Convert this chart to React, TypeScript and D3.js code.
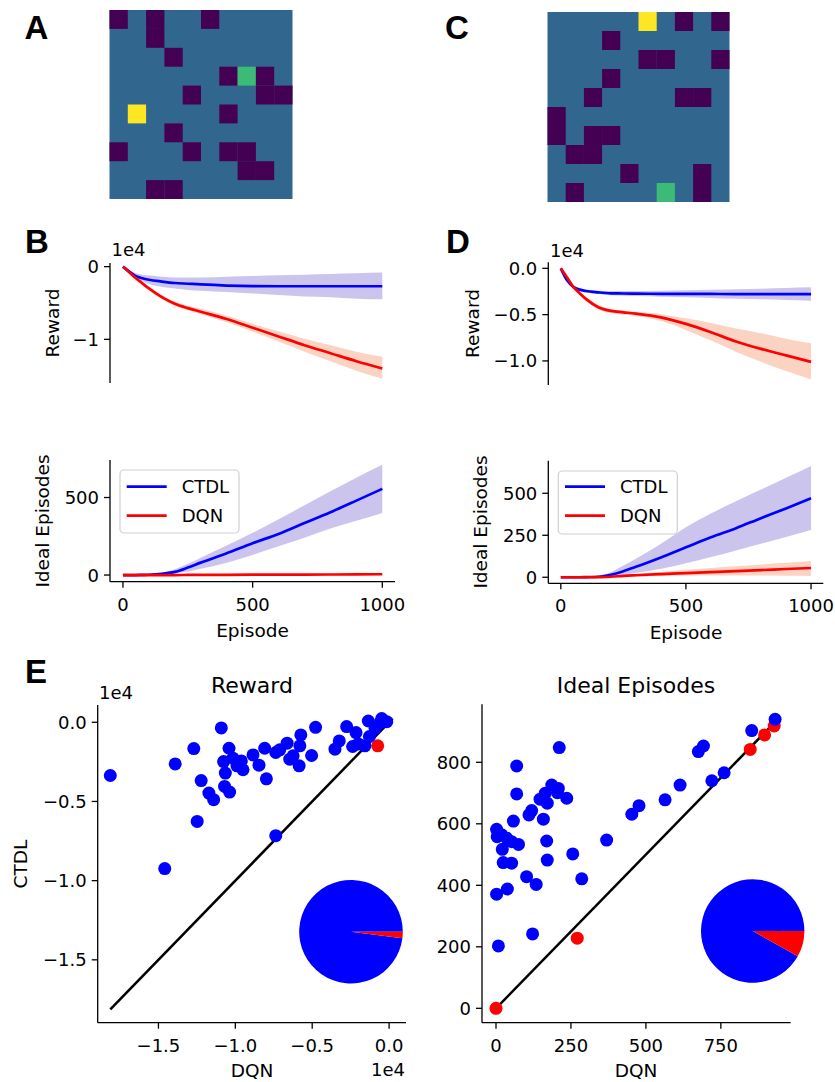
import React, { useRef, useEffect } from "react";
import * as d3 from "d3";

// grid worlds: '#' wall, '.' free, 'S' start, 'G' goal
const gridA = [
  "#.#..#....",
  "..#.......",
  "...#......",
  "......#G#.",
  "....#...##",
  ".S....#...",
  "...#......",
  "#...#.##..",
  ".......##.",
  "..##......",
];
const gridC = [
  ".....S.#.#",
  "...#......",
  ".....##..#",
  "...#......",
  "..#....##.",
  "#.........",
  "#.##......",
  ".##.......",
  "....#...#.",
  ".#....G.#.",
];

const episodes = [0, 25, 50, 75, 100, 150, 200, 250, 300, 400, 500, 600, 700, 800, 900, 1000];

// B: reward
const bRewardCtdl = [0, -700, -1300, -1600, -1800, -2050, -2250, -2350, -2450, -2600, -2680, -2700, -2700, -2700, -2700, -2700];
const bRewardCtdlHi = [0, -500, -900, -1100, -1200, -1400, -1500, -1500, -1500, -1400, -1300, -1200, -1100, -1000, -900, -800];
const bRewardCtdlLo = [0, -900, -1600, -2000, -2400, -2800, -3000, -3200, -3300, -3500, -3700, -3900, -4100, -4200, -4400, -4500];
const bRewardDqn = [0, -800, -1600, -2300, -3000, -4200, -5100, -5700, -6200, -7200, -8400, -9600, -10800, -11900, -13000, -14000];
const bRewardDqnHi = [0, -700, -1450, -2150, -2800, -3950, -4800, -5350, -5800, -6750, -7850, -8900, -9900, -10800, -11700, -12400];
const bRewardDqnLo = [0, -900, -1750, -2450, -3200, -4450, -5400, -6000, -6550, -7650, -8950, -10300, -11700, -13000, -14300, -15400];

// B: ideal episodes
const bIdealCtdl = [0, 0, 0, 1, 2, 8, 20, 48, 80, 140, 205, 265, 335, 405, 480, 556];
const bIdealCtdlHi = [0, 0, 0, 1, 3, 14, 38, 72, 112, 190, 272, 360, 450, 540, 628, 711];
const bIdealCtdlLo = [0, 0, 0, 0, 1, 4, 10, 22, 40, 80, 130, 185, 240, 300, 350, 400];
const bIdealDqn = [0, 0, 0, 0, 0, 0, 0, 0.5, 1, 1.5, 2, 2.5, 3, 3.5, 4, 5];
const bIdealDqnHi = [0, 0, 0, 0, 0, 0, 0.5, 1, 2, 3, 4, 5, 6, 7, 8, 9];
const bIdealDqnLo = [0, 0, 0, 0, 0, 0, 0, 0, 0, 0, 0, 0, 0, 0.5, 1, 1];

// D: reward
const dRewardCtdl = [0, -1300, -2000, -2300, -2450, -2600, -2700, -2720, -2740, -2750, -2760, -2770, -2780, -2780, -2790, -2790];
const dRewardCtdlHi = [0, -1200, -1850, -2150, -2300, -2420, -2460, -2460, -2460, -2420, -2380, -2320, -2260, -2200, -2120, -2050];
const dRewardCtdlLo = [0, -1400, -2150, -2450, -2600, -2780, -2900, -2950, -3000, -3060, -3120, -3200, -3280, -3350, -3430, -3500];
const dRewardDqn = [0, -1000, -2000, -2700, -3300, -4200, -4600, -4750, -4900, -5300, -6000, -6900, -7900, -8700, -9400, -10100];
const dRewardDqnHi = [0, -900, -1850, -2550, -3100, -3950, -4400, -4550, -4700, -4950, -5400, -5900, -6500, -7000, -7600, -8100];
const dRewardDqnLo = [0, -1100, -2150, -2850, -3500, -4450, -4850, -5000, -5150, -5700, -6650, -7800, -9000, -10100, -11100, -12000];

// D: ideal episodes
const dIdealCtdl = [0, 0, 0, 0, 1, 3, 15, 36, 62, 118, 178, 238, 292, 352, 410, 470];
const dIdealCtdlHi = [0, 0, 0, 0, 2, 6, 30, 70, 110, 200, 298, 380, 452, 522, 592, 662];
const dIdealCtdlLo = [0, 0, 0, 0, 0, 1, 8, 15, 25, 50, 83, 120, 160, 200, 240, 281];
const dIdealDqn = [0, 0, 0, 0, 0, 1, 3, 8, 12, 19, 25, 31, 37, 43, 49, 55];
const dIdealDqnHi = [0, 0, 0, 0, 0, 2, 6, 14, 20, 31, 44, 55, 65, 76, 86, 97];
const dIdealDqnLo = [0, 0, 0, 0, 0, 0, 1, 3, 5, 8, 10, 11, 10, 10, 9, 8];

// E: per-environment final results (blue = CTDL better, red = DQN better)
const rewardDqnBlue = [-18130, -14590, -13910, -12700, -12480, -12220, -11720, -11410, -10910, -10700, -10370, -10410, -10760, -10650, -10150, -9890, -9500, -9610, -8850, -8460, -8090, -7980, -7370, -7370, -7110, -6630, -6460, -6240, -5850, -5800, -5740, -5040, -4780, -3520, -3240, -2760, -2150, -2370, -2000, -1570, -1350, -1280, -910, -480, -150, -590];
const rewardCtdlBlue = [-3360, -9240, -2630, -1660, -6260, -3680, -4470, -4890, -360, -4050, -4410, -1640, -2480, -3210, -2270, -2750, -3000, -2440, -2060, -2710, -1640, -3570, -7160, -1910, -1740, -1320, -2330, -2120, -2750, -1490, -800, -2100, -320, -1700, -1180, -270, -650, -1530, -1370, -1490, 80, -900, -380, 230, 40, -60];
const rewardDqnRed = [-740];
const rewardCtdlRed = [-1490];

const idealDqnBlue = [2, 4, 19, 36, 52, 21, 75, 58, 24, 52, 2, 38, 8, 69, 69, 102, 110, 119, 122, 134, 158, 147, 164, 171, 169, 171, 186, 208, 211, 236, 256, 286, 369, 453, 477, 564, 614, 675, 692, 720, 761, 853, 931, 205];
const idealCtdlBlue = [582, 558, 564, 553, 542, 517, 533, 609, 474, 472, 371, 388, 203, 788, 697, 428, 629, 643, 242, 403, 615, 680, 699, 667, 544, 482, 726, 715, 848, 683, 502, 421, 547, 631, 659, 678, 726, 835, 853, 740, 766, 903, 940, 701];
const idealDqnRed = [0, 271, 848, 896, 928];
const idealCtdlRed = [0, 228, 842, 889, 918];

// share of environments (CTDL better, DQN better)
const rewardPie = [49, 1];
const idealPie = [45, 4];

const FONT = "DejaVu Sans";
const BLUE = "#0000ff";
const RED = "#ff0000";
const TICK = 18;

function leftAxis(svg, y, x0, ticks, labels, size = TICK) {
  const [y0, y1] = y.range();
  svg.append("line").attr("x1", x0).attr("x2", x0).attr("y1", y0).attr("y2", y1)
    .attr("stroke", "#000").attr("stroke-width", 1.3);
  ticks.forEach((t, i) => {
    svg.append("line").attr("x1", x0 - 6).attr("x2", x0).attr("y1", y(t)).attr("y2", y(t))
      .attr("stroke", "#000").attr("stroke-width", 1.3);
    svg.append("text").attr("x", x0 - 11).attr("y", y(t)).attr("dy", "0.36em")
      .attr("text-anchor", "end").style("font-family", FONT).style("font-size", size + "px")
      .text(labels[i]);
  });
}

function bottomAxis(svg, x, y0, ticks, labels, size = TICK) {
  const [x0, x1] = x.range();
  svg.append("line").attr("x1", x0).attr("x2", x1).attr("y1", y0).attr("y2", y0)
    .attr("stroke", "#000").attr("stroke-width", 1.3);
  ticks.forEach((t, i) => {
    svg.append("line").attr("x1", x(t)).attr("x2", x(t)).attr("y1", y0).attr("y2", y0 + 6)
      .attr("stroke", "#000").attr("stroke-width", 1.3);
    svg.append("text").attr("x", x(t)).attr("y", y0 + 29)
      .attr("text-anchor", "middle").style("font-family", FONT).style("font-size", size + "px")
      .text(labels[i]);
  });
}

function yLabel(svg, text, x, y, size = 18.5) {
  svg.append("text").attr("transform", `translate(${x},${y}) rotate(-90)`)
    .attr("text-anchor", "middle").style("font-family", FONT).style("font-size", size + "px")
    .text(text);
}

function plainText(svg, text, x, y, anchor, size, weight = "normal", family = FONT) {
  svg.append("text").attr("x", x).attr("y", y).attr("text-anchor", anchor)
    .style("font-family", family).style("font-size", size + "px").style("font-weight", weight)
    .text(text);
}

function drawSeries(svg, x, y, mean, lo, hi, color, band, bandOpacity) {
  const area = d3.area()
    .x((d, i) => x(episodes[i]))
    .y0((d, i) => y(lo[i]))
    .y1((d, i) => y(hi[i]))
    .curve(d3.curveMonotoneX);
  svg.append("path").attr("d", area(episodes)).attr("fill", band).attr("fill-opacity", bandOpacity);
  const line = d3.line()
    .x((d, i) => x(episodes[i]))
    .y((d) => y(d))
    .curve(d3.curveMonotoneX);
  svg.append("path").attr("d", line(mean)).attr("fill", "none").attr("stroke", color)
    .attr("stroke-width", 2.7);
}

function drawGrid(svg, grid, left, top, w, h) {
  const cols = d3.scaleBand().domain(d3.range(10)).range([left, left + w]);
  const rows = d3.scaleBand().domain(d3.range(10)).range([top, top + h]);
  const value = { "#": 0, ".": 0.33, G: 0.68, S: 1 };
  svg.append("rect").attr("x", left).attr("y", top).attr("width", w).attr("height", h)
    .attr("fill", d3.interpolateViridis(value["."]));
  grid.forEach((row, r) => {
    row.split("").forEach((c, k) => {
      if (c === ".") return;
      svg.append("rect").attr("x", cols(k)).attr("y", rows(r))
        .attr("width", cols.bandwidth()).attr("height", rows.bandwidth())
        .attr("fill", d3.interpolateViridis(value[c]));
    });
  });
}

function legend(svg, left, top, lineX, rowY) {
  svg.append("rect").attr("x", left).attr("y", top).attr("width", 119).attr("height", 63)
    .attr("rx", 4).attr("fill", "#fff").attr("fill-opacity", 0.8)
    .attr("stroke", "#d0d0d0").attr("stroke-width", 1.2);
  [["CTDL", BLUE], ["DQN", RED]].forEach(([name, col], i) => {
    const yy = rowY + i * 29;
    svg.append("line").attr("x1", lineX).attr("x2", lineX + 40).attr("y1", yy).attr("y2", yy)
      .attr("stroke", col).attr("stroke-width", 2.7);
    svg.append("text").attr("x", lineX + 55).attr("y", yy).attr("dy", "0.36em")
      .style("font-family", FONT).style("font-size", TICK + "px").text(name);
  });
}

function scatterPanel(svg, x, y, dqnBlue, ctdlBlue, dqnRed, ctdlRed) {
  const all = dqnBlue.concat(ctdlBlue, dqnRed, ctdlRed);
  const [lo, hi] = d3.extent(all);
  svg.append("line").attr("x1", x(lo)).attr("y1", y(lo)).attr("x2", x(hi)).attr("y2", y(hi))
    .attr("stroke", "#000").attr("stroke-width", 2.5);
  dqnRed.forEach((v, i) => {
    svg.append("circle").attr("cx", x(v)).attr("cy", y(ctdlRed[i])).attr("r", 6.5).attr("fill", RED);
  });
  dqnBlue.forEach((v, i) => {
    svg.append("circle").attr("cx", x(v)).attr("cy", y(ctdlBlue[i])).attr("r", 6.5).attr("fill", BLUE);
  });
}

function pie(svg, values, cx, cy, r) {
  const arcs = d3.pie().sort(null).startAngle(Math.PI / 2).endAngle(Math.PI / 2 - 2 * Math.PI)(values);
  const arc = d3.arc().innerRadius(0).outerRadius(r);
  const g = svg.append("g").attr("transform", `translate(${cx},${cy})`);
  arcs.forEach((a, i) => {
    g.append("path").attr("d", arc(a)).attr("fill", i === 0 ? BLUE : RED);
  });
}

const Figure = () => {
  const ref = useRef(null);

  useEffect(() => {
    const svg = d3.select(ref.current);
    svg.selectAll("*").remove();

    // panel letters
    const letter = (t, x, y) => plainText(svg, t, x, y, "middle", 33, "bold", "Liberation Sans");
    letter("A", 36.5, 39);
    letter("C", 457, 39);
    letter("B", 37, 253);
    letter("D", 458, 253);
    letter("E", 36, 683);

    drawGrid(svg, gridA, 109.5, 10, 183, 189);
    drawGrid(svg, gridC, 547.5, 12, 182, 190);

    const xB = d3.scaleLinear().domain([-50, 1049]).range([110, 395]);
    const xD = d3.scaleLinear().domain([-50, 1049]).range([548.3, 823.3]);

    // B reward
    const yB1 = d3.scaleLinear().domain([-16000, 500]).range([383, 263]);
    drawSeries(svg, xB, yB1, bRewardCtdl, bRewardCtdlLo, bRewardCtdlHi, BLUE, "#6a5acd", 0.35);
    drawSeries(svg, xB, yB1, bRewardDqn, bRewardDqnLo, bRewardDqnHi, RED, "#f08050", 0.35);
    leftAxis(svg, yB1, 110, [0, -10000], ["0", "\u22121"]);
    plainText(svg, "1e4", 111.5, 256, "start", TICK);
    yLabel(svg, "Reward", 59, 323);

    // B ideal episodes
    const yB2 = d3.scaleLinear().domain([-43, 742]).range([581.7, 460]);
    drawSeries(svg, xB, yB2, bIdealCtdl, bIdealCtdlLo, bIdealCtdlHi, BLUE, "#6a5acd", 0.35);
    drawSeries(svg, xB, yB2, bIdealDqn, bIdealDqnLo, bIdealDqnHi, RED, "#f08050", 0.35);
    leftAxis(svg, yB2, 110, [0, 500], ["0", "500"]);
    bottomAxis(svg, xB, 581.7, [0, 500, 1000], ["0", "500", "1000"]);
    yLabel(svg, "Ideal Episodes", 49, 521);
    plainText(svg, "Episode", 252.5, 637, "middle", 18.5);
    legend(svg, 120, 470, 126.7, 486.7);

    // D reward
    const yD1 = d3.scaleLinear().domain([-12600, 650]).range([385, 262.3]);
    drawSeries(svg, xD, yD1, dRewardCtdl, dRewardCtdlLo, dRewardCtdlHi, BLUE, "#6a5acd", 0.35);
    drawSeries(svg, xD, yD1, dRewardDqn, dRewardDqnLo, dRewardDqnHi, RED, "#f08050", 0.35);
    leftAxis(svg, yD1, 548.3, [0, -5000, -10000], ["0.0", "\u22120.5", "\u22121.0"]);
    plainText(svg, "1e4", 550, 256.5, "start", TICK);
    yLabel(svg, "Reward", 479, 323.5);

    // D ideal episodes
    const yD2 = d3.scaleLinear().domain([-36, 694]).range([583.3, 460.7]);
    drawSeries(svg, xD, yD2, dIdealCtdl, dIdealCtdlLo, dIdealCtdlHi, BLUE, "#6a5acd", 0.35);
    drawSeries(svg, xD, yD2, dIdealDqn, dIdealDqnLo, dIdealDqnHi, RED, "#f08050", 0.35);
    leftAxis(svg, yD2, 548.3, [0, 250, 500], ["0", "250", "500"]);
    bottomAxis(svg, xD, 583.3, [0, 500, 1000], ["0", "500", "1000"]);
    yLabel(svg, "Ideal Episodes", 487, 522);
    plainText(svg, "Episode", 686, 638.5, "middle", 18.5);
    legend(svg, 558.3, 471, 565, 486.7);

    // E reward scatter
    const xE1 = d3.scaleLinear().domain([-18950, 1100]).range([97.7, 406]);
    const yE1 = d3.scaleLinear().domain([-18970, 1090]).range([1022.7, 705]);
    scatterPanel(svg, xE1, yE1, rewardDqnBlue, rewardCtdlBlue, rewardDqnRed, rewardCtdlRed);
    leftAxis(svg, yE1, 97.7, [0, -5000, -10000, -15000], ["0.0", "\u22120.5", "\u22121.0", "\u22121.5"]);
    bottomAxis(svg, xE1, 1022.7, [-15000, -10000, -5000, 0], ["\u22121.5", "\u22121.0", "\u22120.5", "0.0"]);
    plainText(svg, "1e4", 99, 699, "start", TICK);
    plainText(svg, "1e4", 405, 1076, "end", TICK);
    plainText(svg, "Reward", 252, 693, "middle", 22);
    plainText(svg, "DQN", 252, 1077, "middle", 18.5);
    yLabel(svg, "CTDL", 26.5, 864);
    pie(svg, rewardPie, 351, 931.7, 51.8);

    // E ideal episodes scatter
    const xE2 = d3.scaleLinear().domain([-46.7, 983]).range([482, 790.7]);
    const yE2 = d3.scaleLinear().domain([-46.8, 988.6]).range([1022.7, 704.3]);
    scatterPanel(svg, xE2, yE2, idealDqnBlue, idealCtdlBlue, idealDqnRed, idealCtdlRed);
    leftAxis(svg, yE2, 482, [0, 200, 400, 600, 800], ["0", "200", "400", "600", "800"]);
    bottomAxis(svg, xE2, 1022.7, [0, 250, 500, 750], ["0", "250", "500", "750"]);
    plainText(svg, "Ideal Episodes", 636, 693, "middle", 22);
    plainText(svg, "DQN", 636, 1077, "middle", 18.5);
    pie(svg, idealPie, 752.7, 931, 51.7);
  }, []);

  return <svg ref={ref} width={835} height={1082} style={{ display: "block" }}></svg>;
};

export default function App() {
  return (
    <div style={{ position: "absolute", left: 0, top: 0, background: "#fff" }}>
      <Figure />
    </div>
  );
}
